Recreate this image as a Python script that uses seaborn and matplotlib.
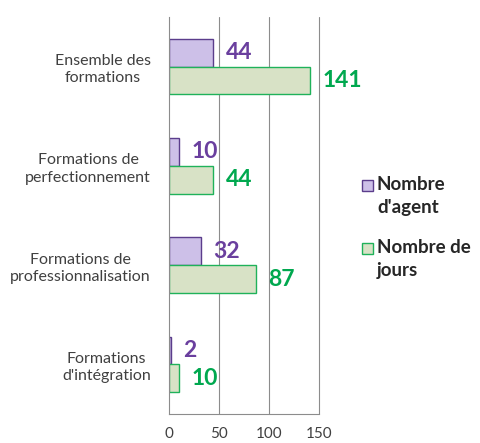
import matplotlib
matplotlib.use("Agg")
import matplotlib.pyplot as plt
import seaborn as sns
import pandas as pd
from matplotlib.patches import Rectangle

categories = ["Ensemble des\nformations", "Formations de\nperfectionnement",
              "Formations de\nprofessionnalisation", "Formations\nd'intégration"]
series_names = ["Nombre\nd'agent", "Nombre de\njours"]
agents = [44, 10, 32, 2]
jours = [141, 44, 87, 10]
x_ticks = [0, 50, 100, 150]

sns.set_theme(style="white")
plt.rcParams['font.family'] = ['Lato', 'DejaVu Sans']

df = pd.DataFrame({
    "cat": categories * 2,
    "val": agents + jours,
    "serie": [series_names[0]] * 4 + [series_names[1]] * 4,
})

fills = ["#cdc0e8", "#d8e2c6"]
edges = ["#5b3d8c", "#1fb25a"]
label_colors = ["#6a3f9e", "#00a84f"]

W, H = 480, 443
fig = plt.figure(figsize=(4.8, 4.43), dpi=100)
ax = fig.add_axes([169/W, 29/H, 150/W, 397/H])
sns.barplot(data=df, y="cat", x="val", hue="serie", orient="h",
            palette=fills, width=0.56, ax=ax, legend=False, saturation=1)

for i, cont in enumerate(ax.containers):
    for bar in cont:
        bar.set_edgecolor(edges[i])
        bar.set_linewidth(1.0)
    vals = agents if i == 0 else jours
    for bar, v in zip(cont, vals):
        y = bar.get_y() + bar.get_height() / 2
        ax.annotate(str(v), (bar.get_width(), y), xytext=(9, 0),
                    textcoords="offset points", va="center", ha="left",
                    fontsize=16.5, fontweight="bold", color=label_colors[i],
                    annotation_clip=False)

ax.set_xlim(0, 150)
ax.set_ylim(3.5, -0.5)
ax.set_xticks(x_ticks)
ax.set_xticklabels([str(t) for t in x_ticks], fontsize=11, color="#404040")
ax.set_yticks(range(4))
ax.set_yticklabels(categories, fontsize=11.5, color="#404040", multialignment="center",
                   linespacing=1.3)
ax.set_yticks([-0.5, 0.5, 1.5, 2.5, 3.5], minor=True)
ax.tick_params(axis="y", which="major", length=0, pad=13)
ax.tick_params(axis="y", which="minor", length=5, color="#808080", width=0.8, direction="out")
ax.tick_params(axis="x", which="major", length=8, color="#808080", width=0.8,
               direction="inout", pad=5)
ax.set_xlabel("")
ax.set_ylabel("")

for v in x_ticks[1:]:
    ax.axvline(v, color="#8c8c8c", lw=0.8, zorder=0, clip_on=False)

for s in ["top", "right"]:
    ax.spines[s].set_visible(False)
for s in ["left", "bottom"]:
    ax.spines[s].set_color("#8c8c8c")
    ax.spines[s].set_linewidth(0.8)

# legend drawn by hand (square handle beside first line of wrapped label)
leg_tops = [176, 239]
for i, name in enumerate(series_names):
    top = leg_tops[i]
    fig.patches.append(Rectangle((362/W, 1 - (top + 15)/H), 11/W, 11/H,
                                 transform=fig.transFigure, facecolor=fills[i],
                                 edgecolor=edges[i], lw=1.0))
    fig.text(377/W, 1 - top/H, name, ha="left", va="top", fontsize=13.5,
             fontweight="bold", color="#262626", linespacing=1.45)

fig.savefig("out.png", dpi=100)
